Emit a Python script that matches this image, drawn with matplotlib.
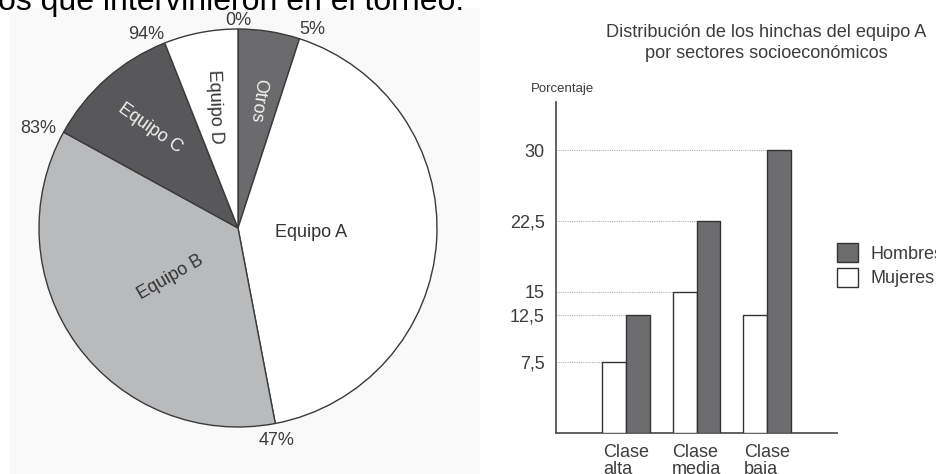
import numpy as np
import matplotlib
matplotlib.use("Agg")
import matplotlib.pyplot as plt
from matplotlib.patches import Patch, Rectangle

plt.rcParams['font.family'] = ['Liberation Sans', 'DejaVu Sans']

# ---------------- data ----------------
pie_labels = ["Otros", "Equipo A", "Equipo B", "Equipo C", "Equipo D"]
pie_shares = [5, 42, 36, 11, 6]

bar_categories = ["Clase\nalta", "Clase\nmedia", "Clase\nbaja"]
hombres = [12.5, 22.5, 30]
mujeres = [7.5, 15, 12.5]
ytick_values = [7.5, 12.5, 15, 22.5, 30]
ytick_labels = ["7,5", "12,5", "15", "22,5", "30"]

bar_title = "Distribución de los hinchas del equipo A\npor sectores socioeconómicos"
top_text = "os que intervinieron en el torneo."

# ---------------- figure ----------------
W, H = 937, 474
fig = plt.figure(figsize=(W / 100, H / 100), dpi=100)
fig.patch.set_facecolor("white")

# faint scan background behind the pie picture
fig.patches.append(Rectangle((10 / W, 0), 470 / W, 1 - 8 / H,
                             transform=fig.transFigure, facecolor="#f9f9f9",
                             edgecolor="none", zorder=-10))

TXT = "#3c3c3c"

# cut-off heading at top
fig.text(464 / W, 1 - 10 / H, top_text, ha="right", va="baseline",
         fontsize=23, color="black")

# ---------------- pie ----------------
axp = fig.add_axes([0, 0, 470 / W, 1])
axp.patch.set_alpha(0)
cx, cy, r = 238, H - 228, 199
pie_colors = ["#6b6b6d", "white", "#b9babc", "#58585a", "white"]
wedges, _ = axp.pie(pie_shares, colors=pie_colors, startangle=90,
                    counterclock=False, center=(cx, cy), radius=r,
                    frame=True,
                    wedgeprops=dict(edgecolor="#3a3a3a", linewidth=1.0))
axp.set_xlim(0, 470)
axp.set_ylim(0, H)
axp.set_axis_off()

# cumulative boundary labels
cum = np.concatenate([[0], np.cumsum(pie_shares)[:-1]])
for c in cum:
    th = np.deg2rad(360 * c / 100)
    s, co = np.sin(th), np.cos(th)
    if abs(s) > 0.8:
        rr = r + 8
        ha = "left" if s > 0 else "right"
        va = "center"
    elif co > 0:
        rr = r + 0.5
        va = "bottom"
        ha = "left" if s > 0.1 else ("right" if s < -0.1 else "center")
    else:
        rr = r + 9
        va = "top"
        ha = "center"
    x, y = cx + rr * s, cy + rr * co
    axp.text(x, y, f"{int(c)}%", ha=ha, va=va, fontsize=13, color=TXT)

# inner labels
inner_rad = [0.65, 0.37, 0.42, 0.67, 0.62]
inner_rot = [-97, 0, 30, -35, -88]
inner_col = ["#f2f2f2", "#333333", "#333333", "#f2f2f2", "#333333"]
mids = np.cumsum(pie_shares) - np.array(pie_shares) / 2
for lab, m, fr, rot, col in zip(pie_labels, mids, inner_rad, inner_rot, inner_col):
    th = np.deg2rad(360 * m / 100)
    x, y = cx + fr * r * np.sin(th), cy + fr * r * np.cos(th)
    axp.text(x, y, lab, ha="center", va="center", rotation=rot,
             rotation_mode="anchor", fontsize=13, color=col)

# ---------------- bars ----------------
axb = fig.add_axes([556 / W, (H - 433) / H, 281 / W, 331 / H])
axb.patch.set_alpha(0)
xpos = np.arange(len(bar_categories))
w = 0.34
b_m = axb.bar(xpos - w / 2, mujeres, w, color="white", edgecolor="#333333",
              linewidth=1.0, zorder=3, label="Mujeres")
b_h = axb.bar(xpos + w / 2, hombres, w, color="#6d6d6f", edgecolor="#333333",
              linewidth=1.0, zorder=3, label="Hombres")
axb.set_xlim(-1, 3)
axb.set_ylim(0, 35.1)

# guide lines from axis to the first bar reaching each value
lefts = list(xpos - w) + list(xpos)
vals = list(mujeres) + list(hombres)
for v in sorted(set(vals)):
    xe = min(l for l, vv in zip(lefts, vals) if vv == v)
    axb.plot([-1, xe], [v, v], color="#b0b0b0", linewidth=0.8,
             linestyle=(0, (1, 1)), zorder=1)

axb.set_yticks(ytick_values)
axb.set_yticklabels(ytick_labels, fontsize=13, color=TXT)
axb.set_xticks(xpos)
axb.set_xticklabels(bar_categories, fontsize=13, color=TXT, linespacing=1.0,
                    multialignment="left")
axb.tick_params(length=0, pad=8)
axb.tick_params(axis="x", pad=8)
for sp in ["top", "right"]:
    axb.spines[sp].set_visible(False)
for sp in ["left", "bottom"]:
    axb.spines[sp].set_color("#555555")
    axb.spines[sp].set_linewidth(1.3)

fig.text(562 / W, 1 - 89 / H, "Porcentaje", ha="center", va="center",
         fontsize=9.5, color=TXT)
fig.text(766 / W, 1 - 43 / H, bar_title, ha="center", va="center",
         fontsize=13.1, color=TXT, linespacing=1.3)

handles = [Patch(facecolor="#6d6d6f", edgecolor="#333333", label="Hombres"),
           Patch(facecolor="white", edgecolor="#333333", label="Mujeres")]
fig.legend(handles=handles, loc="upper left",
           bbox_to_anchor=(837 / W, 1 - 243 / H), bbox_transform=fig.transFigure,
           frameon=False, fontsize=13, handlelength=1.17, handleheight=1.25,
           labelspacing=0.28, handletextpad=0.67, borderpad=0, borderaxespad=0,
           labelcolor=TXT)

fig.savefig("out.png", dpi=100, facecolor="white")
